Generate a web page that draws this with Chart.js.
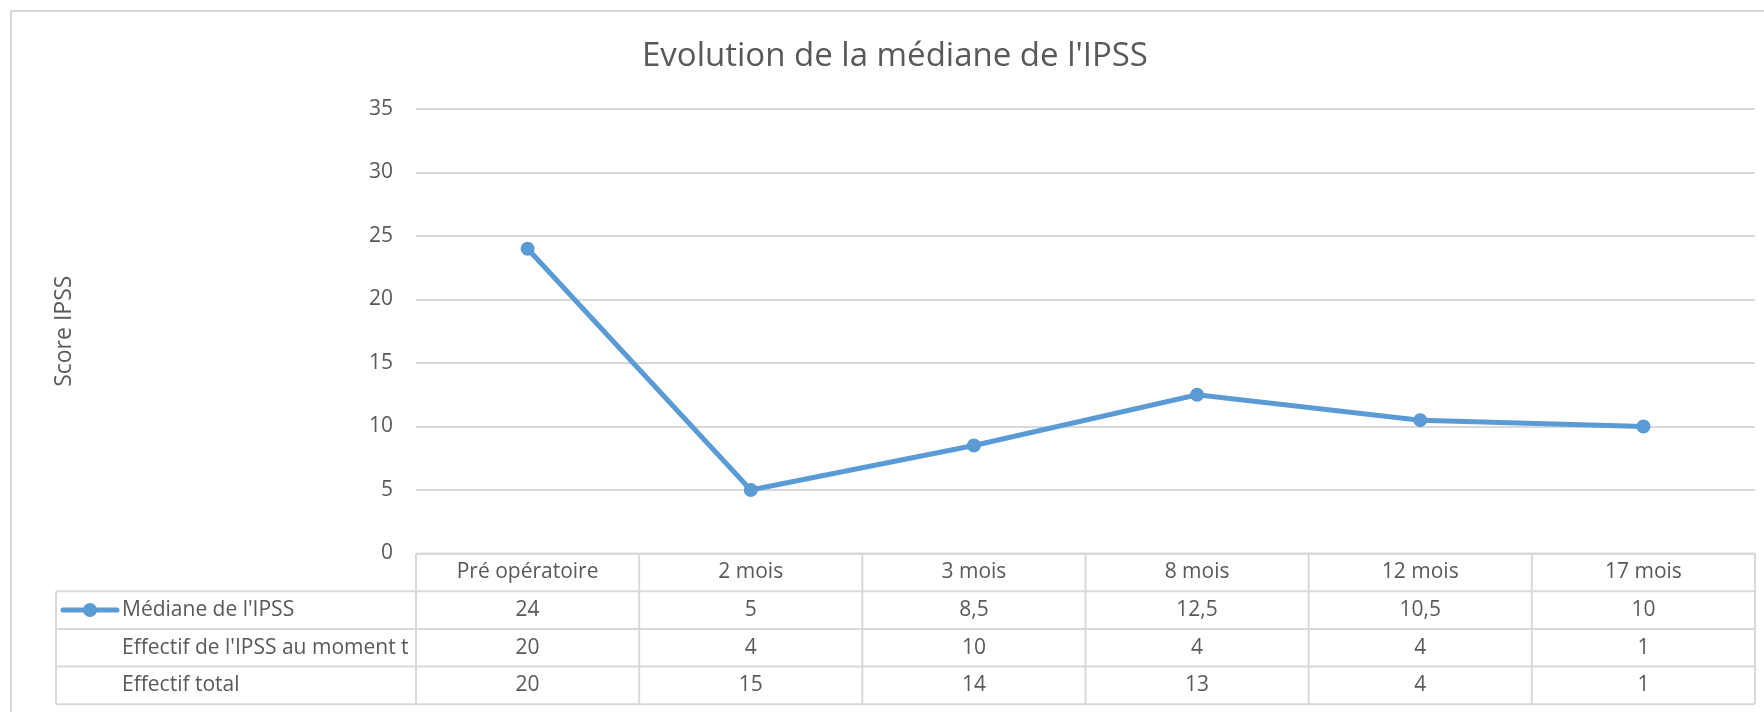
<!DOCTYPE html>
<html>
<head>
<meta charset="utf-8">
<title>Evolution de la médiane de l'IPSS</title>
<script src="https://cdn.jsdelivr.net/npm/chart.js@4.4.1/dist/chart.umd.min.js"></script>
<style>
   html, body { margin: 0; padding: 0; background: #fff; }
   #wrap { position: relative; width: 1764px; height: 712px; }
</style>
</head>
<body>
<div id="wrap"><canvas id="ipssChart"></canvas></div>
<script>
const categories = ['Pré opératoire', '2 mois', '3 mois', '8 mois', '12 mois', '17 mois'];
const medianeIpss = [24, 5, 8.5, 12.5, 10.5, 10];
const effectifMoment = [20, 4, 10, 4, 4, 1];
const effectifTotal = [20, 15, 14, 13, 4, 1];
const rowLabels = ["Médiane de l'IPSS", "Effectif de l'IPSS au moment t", 'Effectif total'];

const textColor = '#595959';
const gridColor = '#D9D9D9';
const seriesColor = '#5B9BD5';
const fontFamily = '"Open Sans", sans-serif';

class IpssChart {
   constructor() {
      this.canvas = document.getElementById('ipssChart');
      this.createChart();
   }

   formatValue(v) {
      return String(v).replace('.', ',');
   }

   // cadre gris autour du graphique
   framePlugin() {
      return {
         id: 'frame',
         beforeDraw(chart) {
            const {ctx, width, height} = chart;
            ctx.save();
            ctx.fillStyle = '#fff';
            ctx.fillRect(0, 0, width, height);
            ctx.strokeStyle = gridColor;
            ctx.lineWidth = 2;
            ctx.beginPath();
            ctx.moveTo(11, height);
            ctx.lineTo(11, 11);
            ctx.lineTo(width, 11);
            ctx.stroke();
            ctx.restore();
         }
      };
   }

   // tableau de données sous l'axe des x
   tablePlugin() {
      const self = this;
      return {
         id: 'dataTable',
         afterDraw(chart) {
            const {ctx, chartArea, scales: {x}} = chart;
            const rows = [medianeIpss, effectifMoment, effectifTotal];
            const rowH = 37.7;
            const labelLeft = 56;
            const top = chartArea.bottom;
            const bottom = top + rowH * (rows.length + 1);
            const half = (x.getPixelForValue(1) - x.getPixelForValue(0)) / 2;
            const edges = categories.map((c, i) => x.getPixelForValue(i) - half);
            edges.push(x.getPixelForValue(categories.length - 1) + half);
            const right = edges[edges.length - 1];

            ctx.save();
            ctx.strokeStyle = gridColor;
            ctx.lineWidth = 2;
            ctx.beginPath();
            ctx.moveTo(chartArea.left, top);
            ctx.lineTo(right, top);
            for (let r = 1; r <= rows.length + 1; r++) {
               ctx.moveTo(labelLeft, top + r * rowH);
               ctx.lineTo(right, top + r * rowH);
            }
            edges.forEach(ex => {
               ctx.moveTo(ex, top);
               ctx.lineTo(ex, bottom);
            });
            ctx.moveTo(labelLeft, top + rowH);
            ctx.lineTo(labelLeft, bottom);
            ctx.stroke();

            ctx.fillStyle = textColor;
            ctx.font = '21px ' + fontFamily;
            ctx.textBaseline = 'middle';
            ctx.textAlign = 'center';
            categories.forEach((c, i) => {
               ctx.fillText(c, x.getPixelForValue(i), top + rowH / 2);
            });
            rows.forEach((values, r) => {
               const cy = top + (r + 1.5) * rowH;
               values.forEach((v, i) => {
                  ctx.fillText(self.formatValue(v), x.getPixelForValue(i), cy);
               });
            });

            ctx.textAlign = 'left';
            rowLabels.forEach((label, r) => {
               ctx.fillText(label, 122, top + (r + 1.5) * rowH);
            });

            // clé de légende de la série
            const ky = top + 1.5 * rowH;
            ctx.strokeStyle = seriesColor;
            ctx.lineWidth = 5;
            ctx.lineCap = 'round';
            ctx.beginPath();
            ctx.moveTo(63, ky);
            ctx.lineTo(117, ky);
            ctx.stroke();
            ctx.fillStyle = seriesColor;
            ctx.beginPath();
            ctx.arc(90, ky, 7, 0, Math.PI * 2);
            ctx.fill();
            ctx.restore();
         }
      };
   }

   createChart() {
      this.chart = new Chart(this.canvas, {
         type: 'line',
         data: {
            labels: categories,
            datasets: [
               {
                  label: rowLabels[0],
                  data: medianeIpss,
                  borderColor: seriesColor,
                  backgroundColor: seriesColor,
                  borderWidth: 5,
                  pointRadius: 6,
                  pointBorderWidth: 2,
                  tension: 0
               }
            ]
         },
         options: {
            responsive: true,
            maintainAspectRatio: false,
            animation: false,
            layout: {
               padding: {left: 35, right: 9, top: 0, bottom: 158.5}
            },
            plugins: {
               legend: {display: false},
               tooltip: {enabled: false},
               title: {
                  display: true,
                  text: "Evolution de la médiane de l'IPSS",
                  color: textColor,
                  font: {family: fontFamily, size: 33, weight: 'normal'},
                  padding: {top: 37, bottom: 32.4}
               }
            },
            scales: {
               x: {
                  display: false,
                  offset: true
               },
               y: {
                  min: 0,
                  max: 35,
                  ticks: {
                     stepSize: 5,
                     color: textColor,
                     font: {family: fontFamily, size: 21},
                     padding: 23
                  },
                  grid: {color: gridColor, lineWidth: 2, drawTicks: false},
                  border: {display: false},
                  title: {
                     display: true,
                     text: 'Score IPSS',
                     color: textColor,
                     font: {family: fontFamily, size: 23},
                     padding: {top: 16, bottom: 0}
                  },
                  afterFit(scale) {
                     scale.width = 381;
                  }
               }
            }
         },
         plugins: [this.framePlugin(), this.tablePlugin()]
      });
   }
}

new IpssChart();
</script>
</body>
</html>
